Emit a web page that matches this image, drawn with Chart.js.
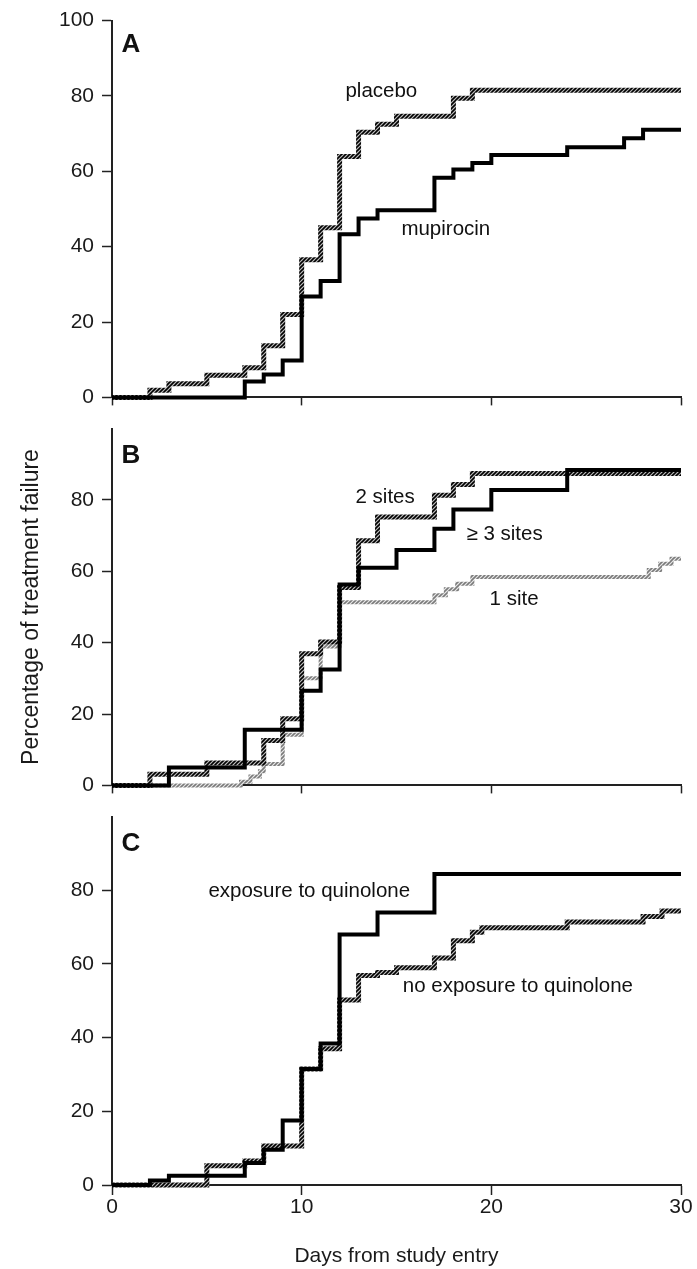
<!DOCTYPE html>
<html lang="en">
<head>
<meta charset="UTF-8">
<title>Percentage of treatment failure</title>
<script src="https://cdn.jsdelivr.net/npm/chart.js"></script>
<style>
  body { margin: 0; background: #fff; }
  #wrap { position: relative; width: 697px; height: 1269px; }
  #wrap canvas { position: absolute; left: 0; }
</style>
</head>
<body>
<div id="wrap">
  <canvas id="panelA" width="697" height="418" style="top:0"></canvas>
  <canvas id="panelB" width="697" height="398" style="top:408px"></canvas>
  <canvas id="panelC" width="697" height="473" style="top:796px"></canvas>
</div>
<script>
// Panel A: placebo vs mupirocin
const placeboDays   = [0, 2, 3, 5, 7, 8, 9, 10, 11, 12, 13, 14, 15, 18, 19, 30];
const placeboPct    = [0, 1.9, 3.6, 5.9, 7.9, 13.7, 22, 36.5, 45, 63.9, 70.4, 72.5, 74.6, 79.4, 81.5, 81.5];
const mupirocinDays = [0, 7, 8, 9, 10, 11, 12, 13, 14, 17, 18, 19, 20, 24, 27, 28, 30];
const mupirocinPct  = [0, 4.2, 6.1, 9.8, 26.8, 30.9, 43.3, 47.5, 49.7, 58.3, 60.5, 62.2, 64.3, 66.4, 68.8, 71, 71];

// Panel B: number of colonized sites
const oneSiteDays    = [0, 6.8, 7.3, 7.8, 8, 9, 10, 11, 12, 17, 17.6, 18.2, 19, 28.3, 28.9, 29.5, 30];
const oneSitePct     = [0, 1, 2.5, 4, 6, 14.2, 30, 38.9, 51.3, 53.3, 55, 56.5, 58.4, 60.4, 62.1, 63.5, 63.5];
const twoSitesDays   = [0, 2, 5, 8, 9, 10, 11, 12, 13, 14, 17, 18, 19, 30];
const twoSitesPct    = [0, 3.1, 6.3, 12.6, 18.7, 36.9, 40.2, 55.5, 68.6, 75.2, 81.3, 84.3, 87.4, 87.4];
const threeSitesDays = [0, 3, 7, 10, 11, 12, 13, 15, 17, 18, 20, 24, 30];
const threeSitesPct  = [0, 5, 15.6, 26.5, 32.5, 56.3, 61, 66, 71.9, 77.3, 82.8, 88.4, 88.4];

// Panel C: quinolone exposure
const exposedDays   = [0, 2, 3, 7, 8, 9, 10, 11, 12, 14, 17, 30];
const exposedPct    = [0, 1.2, 2.5, 6, 9.6, 17.5, 31.5, 38.4, 68, 74, 84.4, 84.4];
const unexposedDays = [0, 5, 7, 8, 10, 11, 12, 13, 14, 15, 17, 18, 19, 19.5, 24, 28, 29, 30];
const unexposedPct  = [0, 5.2, 6.5, 10.6, 31.5, 37, 50.2, 56.9, 57.7, 59, 61.6, 66.3, 68.6, 69.8, 71.4, 72.9, 74.4, 74.4];

const yTicks = [0, 20, 40, 60, 80, 100];
const xTicks = [0, 10, 20, 30];

const FONT = '"Liberation Sans", Arial, Helvetica, sans-serif';
Chart.defaults.font.family = FONT;
Chart.defaults.color = '#1a1a1a';

// diagonal hatch used for the textured curves
function hatch(bg, fg) {
    let c = document.createElement('canvas');
    c.width = 4; c.height = 4;
    let g = c.getContext('2d');
    g.fillStyle = bg;
    g.fillRect(0, 0, 4, 4);
    g.strokeStyle = fg;
    g.lineWidth = 1.6;
    g.beginPath();
    g.moveTo(0, 4); g.lineTo(4, 0);
    g.moveTo(-1, 1); g.lineTo(1, -1);
    g.moveTo(3, 5); g.lineTo(5, 3);
    g.stroke();
    return g.createPattern(c, 'repeat');
}

const solid = { borderColor: '#000', borderWidth: 4 };
const darkHatch = { borderColor: hatch('#bdbdbd', '#000'), borderWidth: 5 };
const lightHatch = { borderColor: hatch('#e8e8e8', '#7a7a7a'), borderWidth: 4 };

function points(days, pct) {
    return days.map((d, i) => ({ x: d, y: pct[i] }));
}

// text labels placed in data units of each panel
function notes(items) {
    return {
        id: 'notes',
        afterDatasetsDraw(chart) {
            let { ctx, scales } = chart;
            ctx.save();
            ctx.fillStyle = '#111';
            ctx.textAlign = 'center';
            ctx.textBaseline = 'middle';
            items.forEach(t => {
                ctx.font = (t.bold ? 'bold 26px ' : '20.5px ') + FONT;
                ctx.fillText(t.text, scales.x.getPixelForValue(t.x), scales.y.getPixelForValue(t.y));
            });
            ctx.restore();
        }
    };
}

function makePanel(id, lines, labels, cfg) {
    new Chart(document.getElementById(id), {
        type: 'line',
        data: {
            datasets: lines.map(l => Object.assign({
                data: points(l.days, l.pct),
                stepped: 'before',
                pointRadius: 0,
                fill: false,
                borderCapStyle: 'butt',
                borderJoinStyle: 'miter',
                clip: 8
            }, l.style))
        },
        options: {
            responsive: false,
            animation: false,
            events: [],
            layout: { autoPadding: false, padding: { top: cfg.top, right: 16, left: 0, bottom: 0 } },
            plugins: { legend: { display: false }, tooltip: { enabled: false } },
            scales: {
                x: {
                    type: 'linear', min: 0, max: 30,
                    afterBuildTicks: s => { s.ticks = xTicks.map(v => ({ value: v })); },
                    ticks: { display: cfg.xLabels, padding: 0, font: { size: 21 } },
                    grid: { drawOnChartArea: false, tickLength: cfg.tick, tickWidth: 1.5, tickColor: '#222' },
                    border: { color: '#222', width: 2 },
                    title: { display: cfg.xLabels, text: 'Days from study entry', font: { size: 21 }, padding: 0 },
                    afterFit: s => { s.height = cfg.xHeight; }
                },
                y: {
                    min: 0, max: 100,
                    afterBuildTicks: s => { s.ticks = yTicks.map(v => ({ value: v })); },
                    ticks: {
                        padding: 8, font: { size: 21 },
                        callback: v => (v === 100 && !cfg.top100) ? null : v
                    },
                    grid: { drawOnChartArea: false, tickLength: 10, tickWidth: 1.5, tickColor: '#222' },
                    border: { color: '#222', width: 2 },
                    title: { display: !!cfg.yTitle, text: cfg.yTitle || '', font: { size: 23 }, padding: { top: 18, bottom: 0 } },
                    afterFit: s => { s.width = 112; }
                }
            }
        },
        plugins: [notes(labels)]
    });
}

makePanel('panelA', [
    { days: mupirocinDays, pct: mupirocinPct, style: solid },
    { days: placeboDays, pct: placeboPct, style: darkHatch }
], [
    { text: 'A', x: 1.0, y: 93.5, bold: true },
    { text: 'placebo', x: 14.2, y: 81.3 },
    { text: 'mupirocin', x: 17.6, y: 44.6 }
], { top: 20, tick: 8, xHeight: 10, xLabels: false, top100: true });

makePanel('panelB', [
    { days: threeSitesDays, pct: threeSitesPct, style: solid },
    { days: twoSitesDays, pct: twoSitesPct, style: darkHatch },
    { days: oneSiteDays, pct: oneSitePct, style: lightHatch }
], [
    { text: 'B', x: 1.0, y: 92.5, bold: true },
    { text: '2 sites', x: 14.4, y: 80.7 },
    { text: '\u2265 3 sites', x: 20.7, y: 70.5 },
    { text: '1 site', x: 21.2, y: 52.2 }
], { top: 0, tick: 8, xHeight: 10, xLabels: false, yTitle: 'Percentage of treatment failure' });

makePanel('panelC', [
    { days: exposedDays, pct: exposedPct, style: solid },
    { days: unexposedDays, pct: unexposedPct, style: darkHatch }
], [
    { text: 'C', x: 1.0, y: 92.5, bold: true },
    { text: 'exposure to quinolone', x: 10.4, y: 79.6 },
    { text: 'no exposure to quinolone', x: 21.4, y: 53.9 }
], { top: 0, tick: 10, xHeight: 84, xLabels: true });
</script>
</body>
</html>
